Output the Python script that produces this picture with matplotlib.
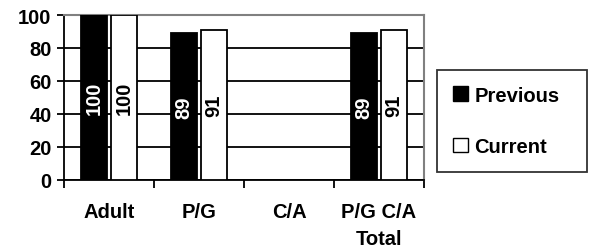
import numpy as np
import matplotlib
matplotlib.use('Agg')
import matplotlib.pyplot as plt
from matplotlib.patches import Patch

categories = ['Adult', 'P/G', 'C/A', 'P/G C/A\nTotal']
previous = [100, 89, np.nan, 89]
current = [100, 91, np.nan, 91]

plt.rcParams['font.family'] = ['Liberation Sans', 'DejaVu Sans']
plt.rcParams['font.weight'] = 'bold'
fs = 14.5

fig = plt.figure(figsize=(5.93, 2.53), dpi=100)
ax = fig.add_axes([64/593, 1-181/253, 360/593, 165/253])

x = np.arange(len(categories))
w = 0.29
b1 = ax.bar(x - 0.167, previous, w, color='black', edgecolor='black', linewidth=1.3, zorder=3)
b2 = ax.bar(x + 0.167, current, w, color='white', edgecolor='black', linewidth=1.3, zorder=3)

for bars, vals, col in [(b1, previous, 'white'), (b2, current, 'black')]:
    for r, v in zip(bars, vals):
        if np.isnan(v):
            continue
        ax.text(r.get_x() + r.get_width()/2, v/2, f'{v:g}', rotation=90,
                ha='center', va='center', color=col, fontsize=fs, fontweight='bold', zorder=4)

ax.set_xlim(-0.5, 3.5)
ax.set_ylim(0, 100)
ax.set_yticks([0, 20, 40, 60, 80, 100])
ax.yaxis.grid(True, color='black', linewidth=1.3, zorder=0)
ax.set_axisbelow(True)

ax.set_xticks(x)
ax.set_xticklabels(categories, fontsize=fs, fontweight='bold', linespacing=1.5)
ax.set_xticks(np.arange(-0.5, 4, 1), minor=True)
ax.tick_params(axis='x', which='major', length=0, pad=16)
ax.tick_params(axis='x', which='minor', length=6, width=1.3, direction='out')
ax.tick_params(axis='y', length=5, width=1.3, pad=4, labelsize=fs)
for t in ax.get_yticklabels():
    t.set_fontweight('bold')

ax.spines['left'].set_color('black')
ax.spines['bottom'].set_color('black')
ax.spines['left'].set_linewidth(1.3)
ax.spines['bottom'].set_linewidth(1.3)
ax.spines['top'].set_color('#808080')
ax.spines['right'].set_color('#808080')
ax.spines['top'].set_linewidth(1.5)
ax.spines['right'].set_linewidth(1.5)

handles = [Patch(facecolor='black', edgecolor='black', label='Previous'),
           Patch(facecolor='white', edgecolor='black', label='Current')]
leg = fig.legend(handles=handles, loc='upper left',
                 bbox_to_anchor=(437/593, 1-71/253, 150/593, 0.001),
                 mode='expand', borderaxespad=0,
                 handlelength=0.75, handleheight=0.75, handletextpad=0.3,
                 labelspacing=1.6, borderpad=0.8, fancybox=False,
                 prop={'weight': 'bold', 'size': fs})
leg.get_frame().set_edgecolor('black')
leg.get_frame().set_linewidth(1.3)

fig.savefig('out.png', dpi=100)
